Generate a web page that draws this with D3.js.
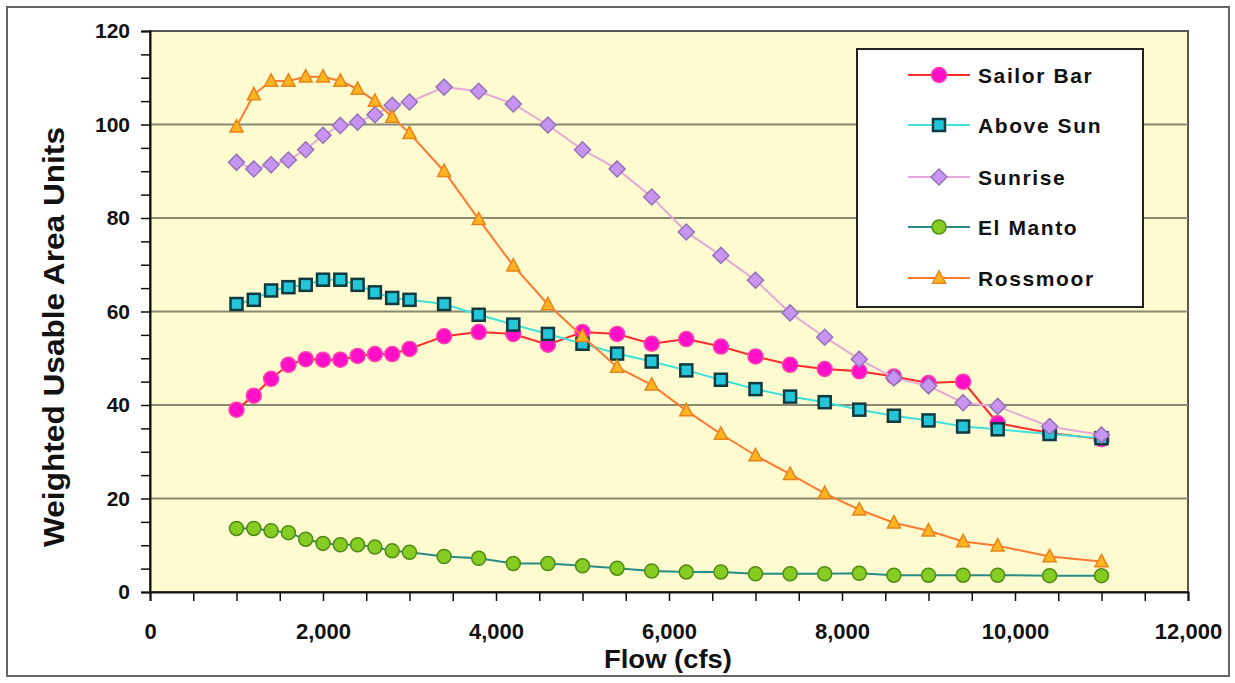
<!DOCTYPE html>
<html>
<head>
<meta charset="utf-8">
<script src="https://cdn.jsdelivr.net/npm/d3@7"></script>
<style>
  html, body { margin: 0; padding: 0; background: #ffffff; }
  svg { display: block; }
  text { font-family: "Liberation Sans", Arial, sans-serif; }
</style>
</head>
<body>
<svg id="chart" width="1235" height="683"></svg>
<script>
// ---- data ----
const flows = [1000,1200,1400,1600,1800,2000,2200,2400,2600,2800,3000,3400,3800,4200,4600,5000,5400,5800,6200,6600,7000,7400,7800,8200,8600,9000,9400,9800,10400,11000];
const sailorBar = [39,42,45.6,48.6,49.8,49.7,49.7,50.5,50.9,50.9,52,54.7,55.6,55.2,52.9,55.6,55.2,53.1,54.1,52.5,50.4,48.6,47.7,47.2,46.1,44.7,45,36.1,34,32.7];
const aboveSun = [61.6,62.5,64.5,65.2,65.7,66.8,66.8,65.7,64.1,62.9,62.5,61.6,59.3,57.2,55.2,53.1,51,49.3,47.4,45.4,43.4,41.8,40.6,39,37.7,36.7,35.4,34.8,33.8,32.9];
const sunrise = [91.9,90.5,91.4,92.4,94.6,97.7,99.8,100.5,102.1,104.1,104.8,108,107.1,104.4,99.9,94.6,90.5,84.5,77,72,66.7,59.7,54.5,49.8,45.8,44.1,40.5,39.7,35.4,33.6];
const elManto = [13.6,13.6,13.1,12.7,11.3,10.4,10.1,10.1,9.6,8.8,8.5,7.6,7.2,6.1,6.1,5.6,5.1,4.5,4.3,4.3,3.9,3.9,3.9,4,3.6,3.6,3.6,3.6,3.5,3.5];
const rossmoor = [99.5,106.4,109.3,109.3,110.2,110.2,109.3,107.6,105,101.6,98.1,90,79.7,69.8,61.5,54.7,48.1,44.3,38.8,33.8,29.2,25.2,21.1,17.6,14.8,13.1,10.8,9.9,7.6,6.5];

const seriesNames = ["Sailor Bar","Above Sun","Sunrise","El Manto","Rossmoor"];
const xTicks = [0,2000,4000,6000,8000,10000,12000];
const yTicks = [0,20,40,60,80,100,120];
const xTitle = "Flow (cfs)";
const yTitle = "Weighted Usable Area Units";

// ---- styles ----
const styles = {
  "Sailor Bar": {values: sailorBar, line: "#ff2a2a", fill: "#ff10c8", stroke: "#ff40b0", shape: "circle", size: 7.5},
  "Above Sun":  {values: aboveSun,  line: "#3fe0dc", fill: "#22c6d8", stroke: "#0f3a40", shape: "square", size: 12},
  "Sunrise":    {values: sunrise,   line: "#e6a8d8", fill: "#c894f2", stroke: "#9672b8", shape: "diamond", size: 16},
  "El Manto":   {values: elManto,   line: "#2a8a86", fill: "#86cc22", stroke: "#4f8c14", shape: "circle", size: 7},
  "Rossmoor":   {values: rossmoor,  line: "#ff7a30", fill: "#ffb422", stroke: "#e8841a", shape: "triangle", size: 13}
};
const drawOrder = ["Sailor Bar","Above Sun","Sunrise","Rossmoor","El Manto"];

const svg = d3.select("#chart");
const W = 1235, H = 683;
const plot = {left: 150, right: 1188, top: 31, bottom: 592};

const x = d3.scaleLinear().domain([0, 12000]).range([plot.left, plot.right]);
const y = d3.scaleLinear().domain([0, 120]).range([plot.bottom, plot.top]);

// outer frame
svg.append("rect").attr("x", 7).attr("y", 7).attr("width", W - 13).attr("height", H - 14)
  .attr("fill", "#ffffff").attr("stroke", "#666").attr("stroke-width", 2);

// plot area
svg.append("rect").attr("x", plot.left).attr("y", plot.top)
  .attr("width", plot.right - plot.left).attr("height", plot.bottom - plot.top)
  .attr("fill", "#fdfbcf").attr("stroke", "#555").attr("stroke-width", 2);

// gridlines
svg.append("g").selectAll("line").data(yTicks.filter(d => d > 0 && d < 120)).join("line")
  .attr("x1", plot.left).attr("x2", plot.right)
  .attr("y1", d => y(d)).attr("y2", d => y(d))
  .attr("stroke", "#8a8a72").attr("stroke-width", 2);

// axes
const yAxis = d3.axisLeft(y).tickValues(d3.range(0, 121, 5)).tickSize(9).tickFormat(d => yTicks.includes(d) ? d : "");
const gy = svg.append("g").attr("transform", `translate(${plot.left},0)`).call(yAxis);
gy.select(".domain").attr("stroke", "#111").attr("stroke-width", 2);
gy.selectAll(".tick line").attr("stroke", "#111").attr("stroke-width", 1.5);
gy.selectAll(".tick text").attr("x", -20).attr("font-size", 21).attr("font-weight", "bold").attr("fill", "#111")
  .attr("font-family", "Liberation Sans, Arial, sans-serif");

const xAxis = d3.axisBottom(x).tickValues(d3.range(0, 12001, 500)).tickSize(9)
  .tickFormat(d => xTicks.includes(d) ? d3.format(",")(d) : "");
const gx = svg.append("g").attr("transform", `translate(0,${plot.bottom})`).call(xAxis);
gx.select(".domain").attr("stroke", "#111").attr("stroke-width", 2);
gx.selectAll(".tick line").attr("stroke", "#111").attr("stroke-width", 1.5);
gx.selectAll(".tick text").attr("y", 31).attr("font-size", 22).attr("font-weight", "bold").attr("fill", "#111")
  .attr("font-family", "Liberation Sans, Arial, sans-serif");

// axis titles
svg.append("text").attr("x", 668).attr("y", 668).attr("text-anchor", "middle")
  .attr("font-size", 26).attr("font-weight", "bold").attr("fill", "#111")
  .attr("textLength", 128).attr("lengthAdjust", "spacingAndGlyphs").text(xTitle);
svg.append("text").attr("transform", "translate(64,337) rotate(-90)").attr("text-anchor", "middle")
  .attr("font-size", 29).attr("font-weight", "bold").attr("fill", "#111")
  .attr("textLength", 420).attr("lengthAdjust", "spacingAndGlyphs").text(yTitle);

// marker drawing helper
function drawMarker(sel, st) {
  const s = st.size;
  if (st.shape === "circle") {
    sel.append("circle").attr("r", s).attr("fill", st.fill).attr("stroke", st.stroke).attr("stroke-width", 1.5);
  } else if (st.shape === "square") {
    sel.append("rect").attr("x", -s/2).attr("y", -s/2).attr("width", s).attr("height", s)
      .attr("fill", st.fill).attr("stroke", st.stroke).attr("stroke-width", 2.5);
  } else if (st.shape === "diamond") {
    sel.append("path").attr("d", `M0,${-s/2}L${s/2},0L0,${s/2}L${-s/2},0Z`)
      .attr("fill", st.fill).attr("stroke", st.stroke).attr("stroke-width", 1.5);
  } else if (st.shape === "triangle") {
    sel.append("path").attr("d", `M0,${-s*0.55}L${s/2},${s*0.4}L${-s/2},${s*0.4}Z`)
      .attr("fill", st.fill).attr("stroke", st.stroke).attr("stroke-width", 1.5);
  }
}

const line = d3.line().x(d => x(d[0])).y(d => y(d[1]));

drawOrder.forEach(name => {
  const st = styles[name];
  const pts = flows.map((f, i) => [f, st.values[i]]);
  const g = svg.append("g").attr("class", "series");
  g.append("path").datum(pts).attr("d", line).attr("fill", "none")
    .attr("stroke", st.line).attr("stroke-width", 2);
  g.selectAll("g.pt").data(pts).join("g").attr("class", "pt")
    .attr("transform", d => `translate(${x(d[0])},${y(d[1])})`)
    .each(function() { drawMarker(d3.select(this), st); });
});

// legend
const lg = svg.append("g");
lg.append("rect").attr("x", 857).attr("y", 49).attr("width", 286).attr("height", 258)
  .attr("fill", "#ffffff").attr("stroke", "#222").attr("stroke-width", 2);
const legendY = [75, 125, 177, 227, 278];
seriesNames.forEach((name, i) => {
  const st = styles[name];
  const row = lg.append("g").attr("transform", `translate(0,${legendY[i]})`);
  row.append("line").attr("x1", 908).attr("x2", 970).attr("y1", 0).attr("y2", 0)
    .attr("stroke", st.line).attr("stroke-width", 2);
  const m = row.append("g").attr("transform", "translate(939,0)");
  drawMarker(m, st);
  row.append("text").attr("x", 978).attr("y", 0).attr("dy", "0.36em")
    .attr("font-size", 21).attr("font-weight", "bold").attr("letter-spacing", 1.6).attr("fill", "#111").text(name);
});
</script>
</body>
</html>
